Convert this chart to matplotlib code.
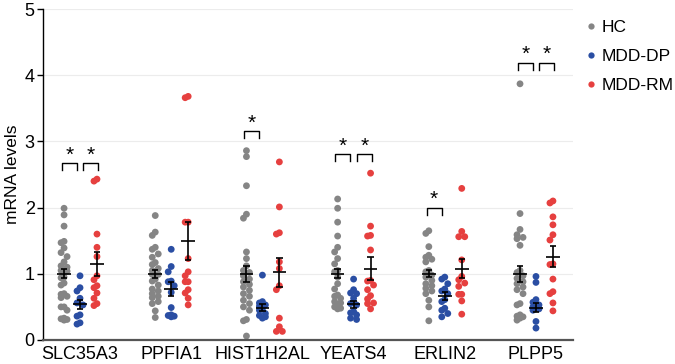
import numpy as np
import matplotlib
matplotlib.use('Agg')
import matplotlib.pyplot as plt
from matplotlib.lines import Line2D

plt.rcParams['font.family'] = ['Liberation Sans', 'DejaVu Sans']

genes = ['SLC35A3', 'PPFIA1', 'HIST1H2AL', 'YEATS4', 'ERLIN2', 'PLPP5']
group_labels = ['HC', 'MDD-DP', 'MDD-RM']

# ---- individual values ----
hc_SLC35A3 = [1.99, 1.89, 1.72, 1.49, 1.47, 1.39, 1.32, 1.26, 1.18, 1.12, 1.10, 1.05, 1.04, 0.95,
              0.94, 0.86, 0.83, 0.70, 0.69, 0.66, 0.64, 0.50, 0.50, 0.45, 0.33, 0.32, 0.31, 0.30]
dp_SLC35A3 = [0.97, 0.79, 0.74, 0.63, 0.56, 0.53, 0.38, 0.36, 0.26, 0.24]
rm_SLC35A3 = [2.43, 2.40, 1.60, 1.40, 1.26, 0.97, 0.91, 0.82, 0.79, 0.71, 0.63, 0.55, 0.52]

hc_PPFIA1 = [1.88, 1.63, 1.58, 1.40, 1.37, 1.30, 1.25, 1.17, 1.14, 1.08, 1.05, 0.99, 0.99, 0.92,
             0.89, 0.83, 0.77, 0.74, 0.70, 0.66, 0.64, 0.58, 0.55, 0.44, 0.34]
dp_PPFIA1 = [1.37, 1.11, 1.03, 0.89, 0.88, 0.82, 0.72, 0.49, 0.38, 0.37, 0.35, 0.36]
rm_PPFIA1 = [3.66, 3.68, 1.78, 1.78, 1.23, 1.03, 0.97, 0.88, 0.88, 0.76, 0.71, 0.63, 0.53]

hc_HIST1H2AL = [2.86, 2.77, 2.33, 1.90, 1.84, 1.33, 1.23, 1.12, 1.05, 1.02, 0.97, 0.92, 0.88,
                0.84, 0.80, 0.75, 0.70, 0.66, 0.60, 0.55, 0.50, 0.45, 0.31, 0.29, 0.06]
dp_HIST1H2AL = [0.98, 0.58, 0.56, 0.53, 0.51, 0.47, 0.45, 0.40, 0.37, 0.35, 0.33]
rm_HIST1H2AL = [2.69, 2.01, 1.62, 1.60, 1.18, 1.08, 0.82, 0.76, 0.33, 0.20, 0.13, 0.13]

hc_YEATS4 = [2.13, 1.99, 1.78, 1.57, 1.40, 1.33, 1.23, 1.15, 1.05, 1.03, 0.95, 0.85, 0.77,
             0.68, 0.66, 0.63, 0.58, 0.56, 0.52, 0.50, 0.48, 0.47]
dp_YEATS4 = [0.92, 0.76, 0.71, 0.70, 0.63, 0.55, 0.53, 0.43, 0.41, 0.38, 0.33, 0.31]
rm_YEATS4 = [2.52, 1.72, 1.58, 1.57, 1.36, 0.90, 0.89, 0.83, 0.76, 0.67, 0.62, 0.56, 0.55, 0.47]

hc_ERLIN2 = [1.65, 1.61, 1.41, 1.28, 1.25, 1.22, 1.18, 1.05, 1.03, 0.98, 0.95, 0.90, 0.85,
             0.82, 0.78, 0.74, 0.70, 0.60, 0.50, 0.29]
dp_ERLIN2 = [0.95, 0.92, 0.85, 0.77, 0.74, 0.70, 0.61, 0.58, 0.48, 0.45, 0.40, 0.35]
rm_ERLIN2 = [2.29, 1.64, 1.56, 1.56, 1.21, 0.96, 0.91, 0.86, 0.81, 0.69, 0.69, 0.59, 0.39]

hc_PLPP5 = [3.87, 1.91, 1.67, 1.59, 1.55, 1.53, 1.43, 1.05, 1.02, 0.97, 0.93, 0.88, 0.85,
            0.80, 0.76, 0.70, 0.55, 0.53, 0.38, 0.36, 0.35, 0.33, 0.30]
dp_PLPP5 = [0.96, 0.87, 0.61, 0.57, 0.53, 0.50, 0.47, 0.45, 0.28, 0.18]
rm_PLPP5 = [2.10, 2.07, 1.86, 1.74, 1.59, 1.51, 1.15, 1.14, 0.92, 0.73, 0.70, 0.56, 0.44]

# ---- mean and SEM ----
mean_hc = [1.00, 1.00, 1.00, 1.00, 1.00, 1.00]
sem_hc = [0.07, 0.06, 0.12, 0.07, 0.05, 0.12]
mean_dp = [0.54, 0.77, 0.49, 0.54, 0.66, 0.49]
sem_dp = [0.07, 0.11, 0.05, 0.05, 0.06, 0.07]
mean_rm = [1.15, 1.50, 1.02, 1.08, 1.08, 1.26]
sem_rm = [0.18, 0.29, 0.22, 0.17, 0.15, 0.16]

# ---- significance brackets ----
sig_gene = [0, 0, 2, 3, 3, 4, 5, 5]
sig_pair = ['hc-dp', 'dp-rm', 'hc-dp', 'hc-dp', 'dp-rm', 'hc-dp', 'hc-dp', 'dp-rm']
sig_height = [2.67, 2.67, 3.15, 2.81, 2.81, 2.00, 4.19, 4.19]

values = [
    [hc_SLC35A3, dp_SLC35A3, rm_SLC35A3],
    [hc_PPFIA1, dp_PPFIA1, rm_PPFIA1],
    [hc_HIST1H2AL, dp_HIST1H2AL, rm_HIST1H2AL],
    [hc_YEATS4, dp_YEATS4, rm_YEATS4],
    [hc_ERLIN2, dp_ERLIN2, rm_ERLIN2],
    [hc_PLPP5, dp_PLPP5, rm_PLPP5],
]
means = [mean_hc, mean_dp, mean_rm]
sems = [sem_hc, sem_dp, sem_rm]

colors = ['#858585', '#2a4ea3', '#e6403f']
offsets = [-0.175, 0.0, 0.186]

W, H = 675, 364
fig = plt.figure(figsize=(W / 100, H / 100), dpi=100)
ax_l, ax_r, ax_b, ax_t = 43, 573, 340, 9
ax = fig.add_axes([ax_l / W, 1 - ax_b / H, (ax_r - ax_l) / W, (ax_b - ax_t) / H])
xlim = (-0.406, 5.406)
ylim = (0, 5)
ax.set_xlim(*xlim)
ax.set_ylim(*ylim)
px_x = (ax_r - ax_l) / (xlim[1] - xlim[0])
px_y = (ax_b - ax_t) / (ylim[1] - ylim[0])


def swarm(vals, diam=6.0, maxoff=5.5):
    """deterministic beeswarm offsets in pixels"""
    order = np.argsort(vals)[::-1]
    placed = []
    offs = np.zeros(len(vals))
    step = diam * 0.5
    cands = [0.0]
    k = 1
    while k * step <= maxoff + 1e-6:
        cands += [-k * step, k * step]
        k += 1
    for i in order:
        yv = vals[i] * px_y
        best, bestd = 0.0, -1
        for c in cands:
            if placed:
                d = min(np.hypot(c - px, yv - py) for px, py in placed)
            else:
                d = 1e9
            if d >= diam * 0.95:
                best = c
                bestd = d
                break
            if d > bestd:
                best, bestd = c, d
        offs[i] = best
        placed.append((best, yv))
    return offs / px_x


for yv in [1, 2, 3, 4, 5]:
    ax.axhline(yv, color='#ececec', lw=0.8, zorder=0)

for gi, gene in enumerate(genes):
    for k in range(3):
        vals = np.array(values[gi][k], dtype=float)
        xs = gi + offsets[k] + swarm(vals)
        ax.scatter(xs, vals, s=24, color=colors[k], edgecolors='none', zorder=2)
        m = means[k][gi]
        s = sems[k][gi]
        xc = gi + offsets[k]
        ax.hlines(m, xc - 0.075, xc + 0.075, color='black', lw=1.2, zorder=3)
        ax.vlines(xc, m - s, m + s, color='black', lw=1.2, zorder=3)
        ax.hlines([m - s, m + s], xc - 0.035, xc + 0.035, color='black', lw=1.2, zorder=3)

for g, p, h in zip(sig_gene, sig_pair, sig_height):
    if p == 'hc-dp':
        x1, x2 = g - 0.2, g - 0.035
    else:
        x1, x2 = g + 0.035, g + 0.2
    ax.plot([x1, x1, x2, x2], [h - 0.105, h, h, h - 0.105], color='black', lw=1.0, zorder=3)
    ax.text((x1 + x2) / 2, h + 0.12, '*', ha='center', va='center', fontsize=15, zorder=3)

ax.set_xticks(range(len(genes)))
ax.set_xticklabels(genes, fontsize=13)
ax.tick_params(axis='x', length=0, pad=4)
ax.set_yticks([0, 1, 2, 3, 4, 5])
ax.set_yticklabels(['0', '1', '2', '3', '4', '5'], fontsize=13)
ax.tick_params(axis='y', length=4, width=1.0, direction='out', pad=2)
for sp in ['top', 'right']:
    ax.spines[sp].set_visible(False)
ax.spines['left'].set_linewidth(1.0)
ax.spines['bottom'].set_linewidth(1.6)
ax.spines['bottom'].set_color('#555555')
ax.set_ylabel('mRNA levels', fontsize=12.5, labelpad=3)

handles = [Line2D([], [], marker='o', linestyle='none', markersize=4.5,
                  markerfacecolor=c, markeredgecolor='none') for c in colors]
fig.legend(handles, group_labels, loc='upper left', bbox_to_anchor=(575 / W, 1 - 13 / H),
           frameon=False, fontsize=12.5, handletextpad=0.15, labelspacing=0.8,
           handlelength=1.0, borderaxespad=0)

fig.savefig('out.png', dpi=100)
